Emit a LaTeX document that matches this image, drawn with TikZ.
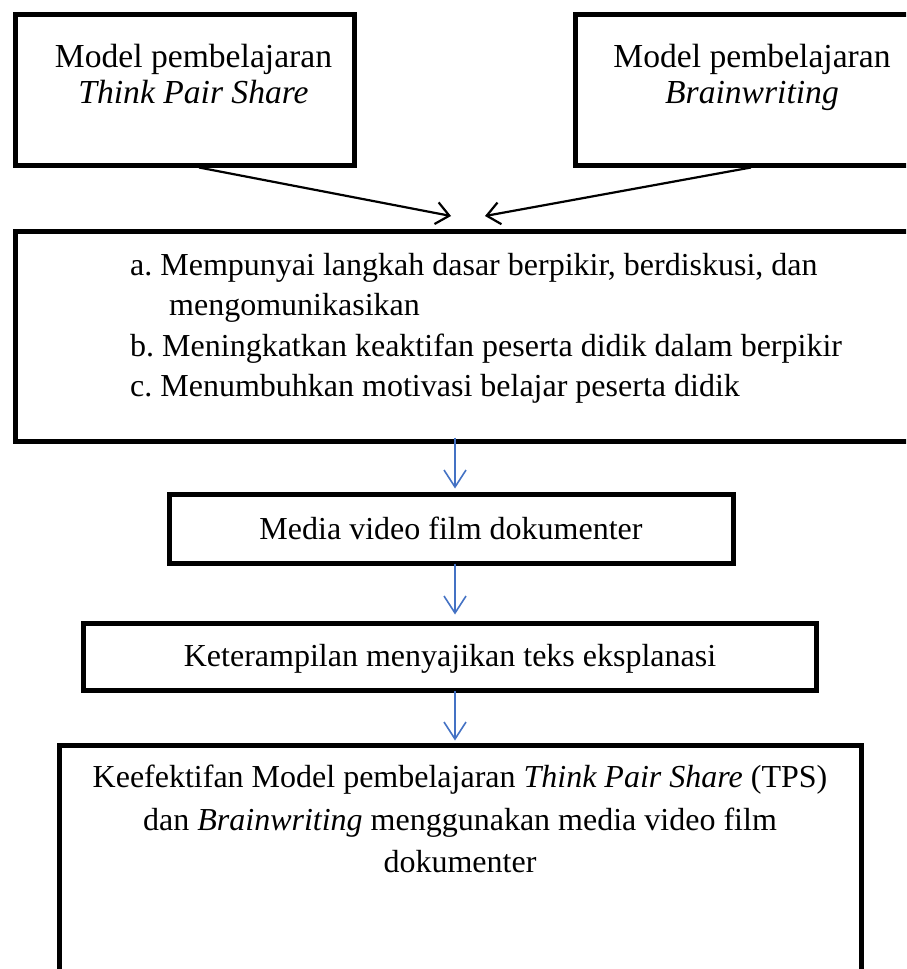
\documentclass[tikz,border=0pt]{standalone}
\usepackage{fontspec}
\setmainfont{Liberation Serif}
\frenchspacing
\usetikzlibrary{arrows.meta}
\definecolor{wordblue}{HTML}{4472C4}
\tikzset{
  boxnode/.style={draw=black, line width=5pt, inner sep=0pt, rectangle},
  txt/.style={inner sep=0pt, anchor=base, font=\fontsize{33.6pt}{40pt}\selectfont},
  txts/.style={inner sep=0pt, anchor=base, font=\fontsize{32pt}{40pt}\selectfont},
  txtl/.style={inner sep=0pt, anchor=base west, font=\fontsize{32pt}{40pt}\selectfont},
  blk/.style={draw=black, line width=2.2pt, -{Straight Barb[length=13pt,width=22pt,line width=2.2pt]}},
  blu/.style={draw=wordblue, line width=1.6pt, -{Straight Barb[length=17pt,width=22pt,line width=1.6pt]}}
}
\begin{document}
\begin{tikzpicture}[x=1pt,y=-1pt]
\useasboundingbox (0,0) rectangle (906,969);
\clip (0,0) rectangle (906,969);
\fill[white] (0,0) rectangle (906,969);

% boxes
\node[boxnode, minimum width=339.5pt, minimum height=150.5pt] (box1) at (184.75,89.75) {};
\node[boxnode, minimum width=370pt, minimum height=150.5pt] (box2) at (760,89.75) {};
\node[boxnode, minimum width=930pt, minimum height=210pt] (box3) at (480,336) {};
\node[boxnode, minimum width=564pt, minimum height=69pt] (box4) at (451,528.5) {};
\node[boxnode, minimum width=733.5pt, minimum height=67.5pt] (box5) at (449.75,656.75) {};
\node[boxnode, minimum width=802pt, minimum height=255pt] (box6) at (460,872.5) {};

% texts
\node[txt] (t1a) at (193.5,67) {Model pembelajaran};
\node[txt] (t1b) at (193.5,103) {\itshape Think Pair Share};
\node[txt] (t2a) at (752,67) {Model pembelajaran};
\node[txt] (t2b) at (752,103) {\itshape Brainwriting};

\node[txtl] (t3a) at (130,275) {a. Mempunyai langkah dasar berpikir, berdiskusi, dan};
\node[txtl] (t3b) at (169,315) {mengomunikasikan};
\node[txtl] (t3c) at (130,356) {b. Meningkatkan keaktifan peserta didik dalam berpikir};
\node[txtl] (t3d) at (130,396) {c. Menumbuhkan motivasi belajar peserta didik};

\node[txts] (t4) at (451,539) {Media video film dokumenter};
\node[txts] (t5) at (450,666) {Keterampilan menyajikan teks eksplanasi};

\node[txts] (t6a) at (460,787) {Keefektifan Model pembelajaran \textit{Think Pair Share} (TPS)};
\node[txts] (t6b) at (460,830) {dan \textit{Brainwriting} menggunakan media video film};
\node[txts] (t6c) at (460,872) {dokumenter};

% connectors
\coordinate (tipL) at (451,216);
\coordinate (tipR) at (485,216);
\coordinate (ax) at (455,0);
\draw[blk] ([xshift=14.25pt]box1.south) -- (tipL);
\draw[blk] ([xshift=-9pt]box2.south) -- (tipR);
\draw[blu, shorten <=-6pt, shorten >=3pt] (box3.south -| ax) -- (box4.north -| ax);
\draw[blu, shorten <=-2pt, shorten >=6pt] (box4.south -| ax) -- (box5.north -| ax);
\draw[blu, shorten <=-2pt, shorten >=2pt] (box5.south -| ax) -- (box6.north -| ax);
\end{tikzpicture}
\end{document}
